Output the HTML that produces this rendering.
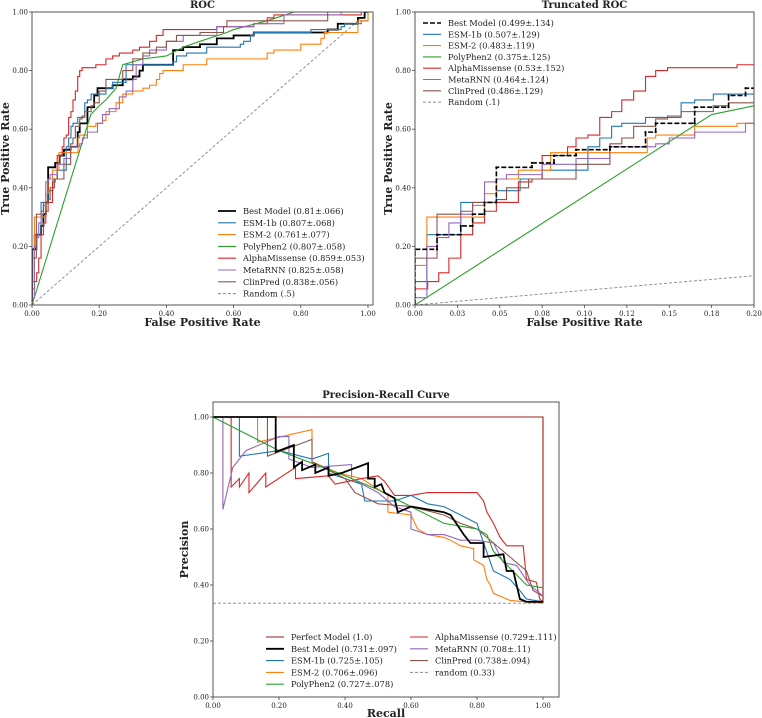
<!DOCTYPE html>
<html><head><meta charset="utf-8"><style>
html,body{margin:0;padding:0;background:#fff;}
svg{display:block;font-family:"DejaVu Serif","Liberation Serif",serif;}
</style></head><body>
<svg id="fig" width="762" height="718" viewBox="0 0 762 718" xmlns="http://www.w3.org/2000/svg"></svg>
<script>
// ---------- ROC data (step breakpoints: fpr where jump occurs, tpr after jump) ----------
const bestFpr=[0,0.013,0.027,0.034,0.041,0.048,0.069,0.082,0.095,0.115,0.136,0.142,0.165,0.185,0.195,0.24,0.27,0.30,0.32,0.33,0.42,0.45,0.50,0.55,0.60,0.66,0.88,0.91,0.97,0.99];
const bestTpr=[0.19,0.24,0.27,0.31,0.35,0.47,0.485,0.51,0.53,0.54,0.59,0.62,0.675,0.715,0.74,0.75,0.77,0.78,0.80,0.82,0.87,0.88,0.89,0.91,0.92,0.93,0.94,0.96,0.98,1.0];
const esm1bFpr=[0,0.007,0.027,0.048,0.062,0.075,0.102,0.109,0.116,0.122,0.136,0.157,0.165,0.176,0.22,0.24,0.28,0.42,0.43,0.46,0.52,0.62,0.63,0.65,0.66,0.83,0.92,0.93,0.98,1.0];
const esm1bTpr=[0.08,0.24,0.35,0.39,0.43,0.46,0.54,0.57,0.61,0.62,0.64,0.69,0.70,0.72,0.74,0.76,0.82,0.83,0.85,0.86,0.88,0.89,0.90,0.92,0.93,0.94,0.95,0.96,0.97,1.0];
const esm2Fpr=[0,0.007,0.041,0.048,0.061,0.08,0.137,0.142,0.165,0.19,0.21,0.22,0.25,0.27,0.30,0.33,0.35,0.37,0.38,0.39,0.45,0.52,0.70,0.72,0.80,0.86,0.87,0.97,1.0];
const esm2Tpr=[0.135,0.30,0.38,0.43,0.46,0.52,0.57,0.58,0.61,0.62,0.63,0.66,0.69,0.72,0.73,0.74,0.75,0.77,0.79,0.80,0.82,0.84,0.86,0.87,0.89,0.91,0.93,0.97,1.0];
const polyFpr=[0,0.175,0.2,0.22,0.25,0.27,0.33,0.40,0.45,0.50,0.58,0.60,0.70,0.78,1.0];
const polyTpr=[0,0.65,0.68,0.70,0.74,0.82,0.84,0.85,0.88,0.90,0.93,0.94,0.97,1.0,1.0];
const amFpr=[0,0.0075,0.014,0.02,0.027,0.034,0.041,0.048,0.061,0.069,0.075,0.09,0.095,0.102,0.109,0.116,0.122,0.129,0.136,0.142,0.149,0.19,0.22,0.24,0.26,0.30,0.32,0.35,0.37,0.39,0.55,0.66,0.70,0.72,0.98];
const amTpr=[0.055,0.08,0.11,0.16,0.24,0.28,0.32,0.35,0.42,0.43,0.51,0.54,0.57,0.58,0.64,0.66,0.70,0.73,0.78,0.80,0.81,0.82,0.84,0.85,0.86,0.87,0.88,0.90,0.92,0.94,0.95,0.96,0.98,0.99,1.0];
const metaFpr=[0,0.007,0.013,0.02,0.027,0.034,0.041,0.048,0.054,0.075,0.095,0.115,0.142,0.15,0.165,0.195,0.21,0.23,0.26,0.28,0.30,0.31,0.33,0.35,0.40,0.45,0.55,0.66,0.75,0.92];
const metaTpr=[0.025,0.20,0.23,0.28,0.31,0.34,0.42,0.43,0.445,0.48,0.50,0.54,0.55,0.57,0.59,0.62,0.65,0.67,0.71,0.73,0.77,0.82,0.85,0.87,0.90,0.92,0.95,0.96,0.99,1.0];
const clinFpr=[0,0.013,0.027,0.034,0.048,0.054,0.067,0.095,0.115,0.122,0.129,0.142,0.149,0.157,0.176,0.185,0.20,0.22,0.27,0.30,0.33,0.37,0.40,0.43,0.50,0.57,0.58,0.88];
const clinTpr=[0.16,0.31,0.32,0.35,0.36,0.40,0.43,0.48,0.55,0.57,0.61,0.635,0.645,0.66,0.68,0.69,0.73,0.77,0.80,0.84,0.86,0.88,0.90,0.92,0.93,0.95,0.97,1.0];
const truncRandomFpr=[0,0.2];
const truncRandomTpr=[0,0.1];

// ---------- PR data ----------
const bestRec=[0,0.19,0.19,0.245,0.245,0.27,0.27,0.31,0.31,0.35,0.35,0.39,0.47,0.47,0.49,0.49,0.51,0.52,0.55,0.56,0.6,0.65,0.7,0.72,0.76,0.78,0.82,0.82,0.88,0.89,0.91,0.93,0.95,1.0];
const bestPrec=[1,1,0.875,0.90,0.82,0.84,0.81,0.83,0.80,0.82,0.79,0.80,0.835,0.78,0.78,0.75,0.76,0.73,0.71,0.66,0.68,0.67,0.66,0.65,0.58,0.55,0.55,0.50,0.51,0.45,0.45,0.35,0.34,0.34];
const esm1bRec=[0,0.08,0.08,0.2,0.3,0.35,0.35,0.45,0.46,0.55,0.6,0.65,0.7,0.75,0.8,0.82,0.85,0.9,0.93,0.95,1.0];
const esm1bPrec=[1,1,0.86,0.88,0.85,0.87,0.80,0.76,0.70,0.70,0.72,0.69,0.68,0.65,0.62,0.55,0.45,0.42,0.38,0.35,0.34];
const esm2Rec=[0,0.135,0.135,0.3,0.3,0.38,0.45,0.53,0.53,0.6,0.62,0.65,0.7,0.72,0.75,0.79,0.79,0.82,0.83,0.84,0.85,0.9,1.0];
const esm2Prec=[1,1,0.91,0.955,0.84,0.80,0.78,0.72,0.66,0.65,0.60,0.58,0.57,0.56,0.54,0.53,0.49,0.47,0.42,0.40,0.37,0.345,0.335];
const polyRec=[0,0.2,0.4,0.5,0.6,0.7,0.75,0.8,0.83,0.85,0.9,0.95,1.0];
const polyPrec=[1,0.88,0.79,0.74,0.68,0.62,0.61,0.60,0.58,0.52,0.46,0.40,0.39];
const amRec=[0,0.055,0.055,0.08,0.08,0.109,0.109,0.16,0.16,0.25,0.25,0.35,0.37,0.45,0.5,0.52,0.55,0.6,0.65,0.8,0.82,0.83,0.85,0.87,0.89,0.94,0.95,0.98,0.99,1.0];
const amPrec=[1,1,0.75,0.78,0.75,0.80,0.73,0.80,0.75,0.82,0.78,0.79,0.76,0.78,0.79,0.77,0.72,0.72,0.73,0.73,0.70,0.66,0.62,0.57,0.54,0.54,0.42,0.41,0.35,0.34];
const metaRec=[0,0.03,0.03,0.06,0.1,0.2,0.23,0.23,0.3,0.42,0.42,0.5,0.55,0.6,0.6,0.65,0.7,0.75,0.8,0.85,0.88,0.92,0.96,0.98,1.0];
const metaPrec=[1,1,0.67,0.82,0.88,0.93,0.93,0.85,0.82,0.83,0.78,0.73,0.68,0.66,0.60,0.58,0.58,0.56,0.56,0.55,0.48,0.47,0.40,0.38,0.36];
const clinRec=[0,0.165,0.165,0.3,0.3,0.4,0.43,0.5,0.6,0.7,0.75,0.8,0.85,0.9,0.95,0.97,1.0];
const clinPrec=[1,1,0.86,0.92,0.84,0.78,0.73,0.69,0.68,0.65,0.62,0.60,0.55,0.50,0.45,0.38,0.36];

const ticks5=[0,0.2,0.4,0.6,0.8,1.0];
const tickLabels5=["0.00","0.20","0.40","0.60","0.80","1.00"];
const truncTicks=[0,0.025,0.05,0.075,0.1,0.125,0.15,0.175,0.2];
const truncTickLabels=["0.00","0.03","0.05","0.08","0.10","0.12","0.15","0.18","0.20"];
const rocLegend=["Best Model (0.81±.066)","ESM-1b (0.807±.068)","ESM-2 (0.761±.077)","PolyPhen2 (0.807±.058)","AlphaMissense (0.859±.053)","MetaRNN (0.825±.058)","ClinPred (0.838±.056)","Random (.5)"];
const truncLegend=["Best Model (0.499±.134)","ESM-1b (0.507±.129)","ESM-2 (0.483±.119)","PolyPhen2 (0.375±.125)","AlphaMissense (0.53±.152)","MetaRNN (0.464±.124)","ClinPred (0.486±.129)","Random (.1)"];
const prLegend=["Perfect Model (1.0)","Best Model (0.731±.097)","ESM-1b (0.725±.105)","ESM-2 (0.706±.096)","PolyPhen2 (0.727±.078)","AlphaMissense (0.729±.111)","MetaRNN (0.708±.11)","ClinPred (0.738±.094)","random (0.33)"];

const C={best:"#000",esm1b:"#1f77b4",esm2:"#ff7f0e",poly:"#2ca02c",am:"#d62728",meta:"#9467bd",clin:"#8c564b",rand:"#888",perfect:"#9b1c1c"};
const NS="http://www.w3.org/2000/svg";
const fig=document.getElementById('fig');

function el(tag,attrs,parent){const e=document.createElementNS(NS,tag);for(const k in attrs)e.setAttribute(k,attrs[k]);(parent||fig).appendChild(e);return e;}
function txt(s,x,y,size,anchor,weight,parent){const t=el('text',{x:x,y:y,'font-size':size,'text-anchor':anchor||'start','font-weight':weight||'normal',fill:'#222'},parent);t.textContent=s;return t;}

function stepPts(fx,ty,sx,sy){let p=[[sx(0),sy(0)]];let prev=0;for(let i=0;i<fx.length;i++){p.push([sx(fx[i]),sy(prev)]);p.push([sx(fx[i]),sy(ty[i])]);prev=ty[i];}p.push([sx(1),sy(prev)]);p.push([sx(1),sy(1)]);return p;}
function linePts(xs,ys,sx,sy){return xs.map((v,i)=>[sx(v),sy(ys[i])]);}
function toD(p){return p.map((q,i)=>(i?'L':'M')+q[0].toFixed(2)+' '+q[1].toFixed(2)).join(' ');}

function axes(g,box,sx,sy,xt,xl,yt,yl,title,xlab,ylab,tpos){
  for(let i=0;i<xt.length;i++){const x=sx(xt[i]);
    const t=el('line',{x1:x,x2:x,y1:box.b,y2:box.b+3,stroke:'#444','stroke-width':0.8},g);
    
    
    const l=txt(xl[i],x,box.b+11,7,'middle','normal',g);
    
    }
  for(let i=0;i<yt.length;i++){const y=sy(yt[i]);
    const t=el('line',{x1:box.l-3,x2:box.l,y1:y,y2:y,stroke:'#444','stroke-width':0.8},g);
    
    
    const l=txt(yl[i],box.l-4,y+2.5,7,'end','normal',g);
    
    }
  const tt=txt(title,(box.l+box.r)/2,tpos.t,10,'middle','bold',g);
  
  
  const xa=txt(xlab,(box.l+box.r)/2,tpos.x,11,'middle','bold',g);
  
  
  const cy=(box.t+box.b)/2;
  const ya=txt(ylab,tpos.y,cy,11,'middle','bold',g);
  ya.setAttribute('transform','rotate(-90 '+tpos.y+' '+cy+')');
  
  
}
function frame(g,box){const f=el('rect',{x:box.l,y:box.t,width:box.r-box.l,height:box.b-box.t,fill:'none',stroke:'#555','stroke-width':1},g);
  
  }
function series(g,pts,color,w,dash,name){const p=el('path',{d:toD(pts),fill:'none',stroke:color,'stroke-width':w,'stroke-linejoin':'miter'},g);if(dash)p.setAttribute('stroke-dasharray',dash);
  
  return p;}
function legend(g,items,colors,dashes,widths,x0,y0,dy,name){
  for(let i=0;i<items.length;i++){const y=y0+i*dy;
    const ln=el('line',{x1:x0,x2:x0+18,y1:y,y2:y,stroke:colors[i],'stroke-width':widths[i]},g);if(dashes[i])ln.setAttribute('stroke-dasharray',dashes[i]);
    
    
    const t=txt(items[i],x0+25,y+3,8.3,'start','normal',g);
    
    }
}

const rocSeries=[[bestFpr,bestTpr,C.best,'best-model'],[esm1bFpr,esm1bTpr,C.esm1b,'esm-1b'],[esm2Fpr,esm2Tpr,C.esm2,'esm-2'],[polyFpr,polyTpr,C.poly,'polyphen2'],[amFpr,amTpr,C.am,'alphamissense'],[metaFpr,metaTpr,C.meta,'metarnn'],[clinFpr,clinTpr,C.clin,'clinpred']];
const legColors=[C.best,C.esm1b,C.esm2,C.poly,C.am,C.meta,C.clin,C.rand];

// ===== ROC =====
(function(){
  const g=el('g',{});
  
  
  const box={l:32,r:373,t:12,b:305};
  const sx=v=>32+v*336, sy=v=>305-v*293;
  el('defs',{},g).innerHTML='<clipPath id="c1"><rect x="32" y="12" width="341" height="293"/></clipPath>';
  const cg=el('g',{'clip-path':'url(#c1)'},g);
  series(cg,[[sx(0),sy(0)],[sx(1),sy(1)]],C.rand,0.9,'3,2','random-line');
  for(const s of rocSeries){const pts=s[3]==='polyphen2'?linePts(s[0],s[1],sx,sy):stepPts(s[0],s[1],sx,sy);series(cg,pts,s[2],s[3]==='best-model'?1.8:1.1,null,s[3]+'-roc-line');}
  frame(g,box);
  axes(g,box,sx,sy,ticks5,tickLabels5,ticks5,tickLabels5,'ROC','False Positive Rate','True Positive Rate',{t:8,x:326,y:9});
  legend(g,rocLegend,legColors,[null,null,null,null,null,null,null,'3,2'],[1.8,1.1,1.1,1.1,1.1,1.1,1.1,1],218,211,11.8,'roc-legend');
})();

// ===== Truncated ROC =====
(function(){
  const g=el('g',{});
  
  
  const box={l:415,r:754,t:12,b:305};
  const sx=v=>415+v/0.2*339, sy=v=>305-v*293;
  el('defs',{},g).innerHTML='<clipPath id="c2"><rect x="415" y="12" width="339" height="293"/></clipPath>';
  const cg=el('g',{'clip-path':'url(#c2)'},g);
  series(cg,linePts(truncRandomFpr,truncRandomTpr,sx,sy),C.rand,0.9,'3,2','random-line');
  for(const s of rocSeries.slice(1)){const pts=s[3]==='polyphen2'?linePts(s[0],s[1],sx,sy):stepPts(s[0],s[1],sx,sy);series(cg,pts,s[2],1.1,null,s[3]+'-truncated-line');}
  const bp=stepPts(bestFpr,bestTpr,sx,sy);
  series(cg,bp,C.best,1.6,'5,2','best-model-truncated-line');
  for(const q of bp){if(q[0]<=754){const m=el('circle',{cx:q[0],cy:q[1],r:1.1,fill:'#000'},cg);
    
    }}
  frame(g,box);
  axes(g,box,sx,sy,truncTicks,truncTickLabels,ticks5,tickLabels5,'Truncated ROC','False Positive Rate','True Positive Rate',{t:8,x:326,y:392});
  legend(g,truncLegend,legColors,['5,2',null,null,null,null,null,null,'3,2'],[1.6,1.1,1.1,1.1,1.1,1.1,1.1,1],423,23,11.3,'truncated-legend');
})();

// ===== PR =====
(function(){
  const g=el('g',{});
  
  
  const box={l:213,r:559,t:402,b:697};
  const sx=v=>213+v*330, sy=v=>697-v*280;
  el('defs',{},g).innerHTML='<clipPath id="c3"><rect x="213" y="402" width="346" height="295"/></clipPath>';
  const cg=el('g',{'clip-path':'url(#c3)'},g);
  series(cg,[[sx(0),sy(0.335)],[sx(1),sy(0.335)]],C.rand,0.9,'3,2','random-baseline');
  series(cg,[[sx(0),sy(1)],[sx(1),sy(1)],[sx(1),sy(0.335)]],C.perfect,1.1,null,'perfect-model-pr-line');
  const prs=[[esm1bRec,esm1bPrec,C.esm1b,'esm-1b'],[esm2Rec,esm2Prec,C.esm2,'esm-2'],[amRec,amPrec,C.am,'alphamissense'],[metaRec,metaPrec,C.meta,'metarnn'],[clinRec,clinPrec,C.clin,'clinpred'],[polyRec,polyPrec,C.poly,'polyphen2'],[bestRec,bestPrec,C.best,'best-model']];
  for(const s of prs){series(cg,linePts(s[0],s[1],sx,sy),s[2],s[3]==='best-model'?1.8:1.1,null,s[3]+'-pr-line');}
  frame(g,box);
  axes(g,box,sx,sy,ticks5,tickLabels5,ticks5,tickLabels5,'Precision-Recall Curve','Recall','Precision',{t:398,x:717,y:188});
  legend(g,prLegend.slice(0,5),[C.perfect,C.best,C.esm1b,C.esm2,C.poly],[null,null,null,null,null],[1.1,1.8,1.1,1.1,1.1],266,637,11.8,'pr-legend');
  legend(g,prLegend.slice(5),[C.am,C.meta,C.clin,C.rand],[null,null,null,'3,2'],[1.1,1.1,1.1,1],410,637,11.8,'pr-legend');
})();
</script>
</body></html>
